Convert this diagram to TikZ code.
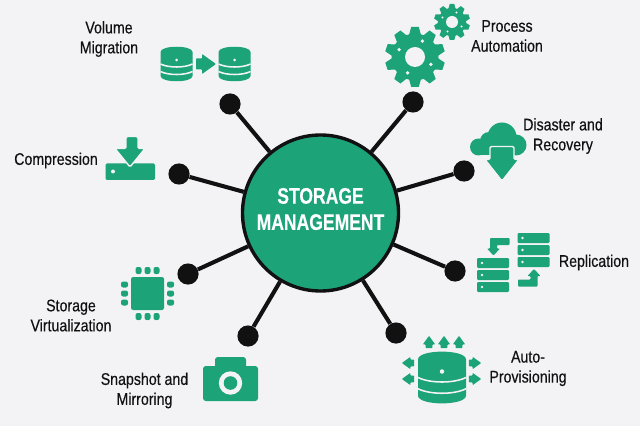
\documentclass[tikz,border=0pt]{standalone}
\usepackage{fontspec}
\usepackage{tikz}
\newfontfamily\labelfont[FakeStretch=0.84,FakeBold=0.35]{Liberation Sans}
\newfontfamily\hubfont[FakeStretch=0.78,FakeBold=0.3]{Liberation Sans}
\definecolor{iconGreen}{HTML}{1CA377}
\definecolor{paperGrey}{HTML}{F3F3F5}
\definecolor{inkBlack}{HTML}{111111}
\tikzstyle{blackdot}=[circle,draw=none,fill=inkBlack,
                      inner sep=0pt,minimum size=5.3mm]
\tikzstyle{hubdisc}=[circle,draw=inkBlack,fill=iconGreen,line width=2.4pt,
                     inner sep=0pt,minimum size=39mm]
\tikzstyle{hubtext}=[inner sep=0pt,align=center,text=white,
                     font=\hubfont\bfseries\fontsize{16}{18.6}\selectfont]
\tikzstyle{caption}=[inner sep=0pt,align=center,text=inkBlack,
                     font=\labelfont\fontsize{12}{14.2}\selectfont]
\tikzstyle{spoke}=[draw=inkBlack,line width=2.9pt]
\tikzstyle{iconfill}=[fill=iconGreen,draw=none]
\tikzstyle{paperfill}=[fill=paperGrey,draw=none]
\tikzset{
  dbicon/.pic={
    \fill[iconfill] (-16,-12) .. controls (-16,-19) and (16,-19) .. (16,-12)
      -- (16,12) .. controls (16,19) and (-16,19) .. (-16,12) -- cycle;
    \draw[paperGrey,line width=1.1pt] (-16,0) .. controls (-8,4) and (8,4) .. (16,0);
    \draw[paperGrey,line width=1.1pt] (-16,7.5) .. controls (-8,11.5) and (8,11.5) .. (16,7.5);
    \fill[paperfill] (0,-4) circle (1.5);
  },
  blockarrow/.pic={
    \fill[iconfill,rounded corners=.5] (-10,-5.5) -- (-4,-5.5) -- (-4,-10) -- (10,0)
      -- (-4,10) -- (-4,5.5) -- (-10,5.5) -- cycle;
  },
  gearicon/.pic={
    \fill[iconfill] (0,0) circle (23.5);
    \foreach \a in {0,36,...,324}
      \fill[iconfill,rotate=\a] (-6,-22) -- (-3.8,-30) -- (3.8,-30) -- (6,-22) -- cycle;
    \fill[paperfill] (0,0) circle (10);
    \foreach \a in {25,115,205,295}
      \fill[paperfill] (\a:17.5) circle (1.9);
  },
  rackicon/.pic={
    \foreach \r in {-12,0,12} {
      \fill[iconfill,rounded corners=.8] (-16,\r-5) rectangle (16,\r+5);
      \fill[paperfill] (-11,\r) circle (1.3);
    }
  },
  bendarrow/.pic={
    \fill[iconfill,rounded corners=.6] (16,-3.5) -- (-3.5,-3.5) -- (-3.5,7) -- (-6.5,7)
      -- (0,14) -- (6.5,7) -- (3.5,7) -- (3.5,3.5) -- (16,3.5) -- cycle;
  },
  chipicon/.pic={
    \fill[iconfill,rounded corners=1.5] (-16.5,-16.5) rectangle (16.5,16.5);
    \foreach \r in {0,90,180,270}
      \foreach \d in {-9,0,9}
        \fill[iconfill,rotate=\r,rounded corners=1.5] (\d-3,-19.5) rectangle (\d+3,-26.5);
  }
}
\begin{document}
\begin{tikzpicture}[x=0.25mm,y=-0.25mm]
    \fill[paperGrey] (0,0) rectangle (640,426);
    \useasboundingbox (0,0) rectangle (640,426);
    \node (hub) at (320.5,213) [hubdisc]{};
    \node (hubname) at (320.5,209) [hubtext]{STORAGE\\MANAGEMENT};
    \node (d1) at (230,104) [blackdot]{};
    \node (d2) at (179,174) [blackdot]{};
    \node (d3) at (413,102) [blackdot]{};
    \node (d4) at (464,171) [blackdot]{};
    \node (d5) at (188,274) [blackdot]{};
    \node (d6) at (248,336) [blackdot]{};
    \node (d7) at (455,271) [blackdot]{};
    \node (d8) at (396,333) [blackdot]{};
    \foreach \d in {d1,d2,d3,d4,d5,d6,d7,d8}
      \draw[spoke] (\d) -- (hub);

    \node (volume) at (109,39) [caption]{Volume\\Migration};
    \node (compress) at (56,160.5) [caption]{Compression};
    \node (process) at (507,36) [caption]{Process\\Automation};
    \node (disaster) at (563,136) [caption]{Disaster and\\Recovery};
    \node (replica) at (594,262.5) [caption]{Replication};
    \node (auto) at (528,368.5) [caption]{Auto-\\Provisioning};
    \node (snapshot) at (144.5,390.5) [caption]{Snapshot and\\Mirroring};
    \node (virtual) at (71,315.5) [caption]{Storage\\Virtualization};

    \pic at (176.5,64) {dbicon};
    \pic at (234.5,64) {dbicon};
    \pic at (206,64) {blockarrow};

    \fill[iconfill,rounded corners=1] (105.5,163.5) rectangle (155,180);
    \fill[paperfill] (113,171.5) circle (2);
    \filldraw[iconGreen,draw=paperGrey,line width=1pt,rounded corners=1]
      (126,136.5) -- (138,136.5) -- (138,148.5) -- (145,148.5) -- (130,167)
      -- (115,148.5) -- (126,148.5) -- cycle;

    \pic at (415,57) {gearicon};
    \pic[scale=0.6] at (452,22) {gearicon};

    \fill[iconfill] (502,137) circle (14.5);
    \fill[iconfill] (478.5,147) circle (8.5);
    \fill[iconfill] (516,145) circle (10.5);
    \fill[iconfill] (489,141) circle (9);
    \fill[iconfill] (478.5,145) rectangle (516,155.5);
    \filldraw[iconGreen,draw=paperGrey,line width=1pt,rounded corners=1]
      (490,146.5) -- (514,146.5) -- (514,159.5) -- (519,159.5) -- (502,181)
      -- (485,159.5) -- (490,159.5) -- cycle;

    \pic at (493,275) {rackicon};
    \pic at (533.5,250) {rackicon};
    \pic at (493.5,241.5) {bendarrow};
    \pic[rotate=180] at (534,283) {bendarrow};

    \pic[scale=1.5] at (442,377.5) {dbicon};
    \foreach \x in {429,444,459}
      \pic[scale=0.62,rotate=90] at (\x,342) {blockarrow};
    \foreach \y in {363,379} {
      \pic[scale=0.62,rotate=180] at (408,\y) {blockarrow};
      \pic[scale=0.62] at (475,\y) {blockarrow};
    }

    \pic at (147.5,293.5) {chipicon};

    \fill[iconfill,rounded corners=2] (203,366) rectangle (258,401);
    \fill[iconfill,rounded corners=2] (215,357) rectangle (246,372);
    \fill[paperfill] (230.5,383) circle (11.7);
    \fill[iconfill] (230.5,383) circle (6.8);
  \end{tikzpicture}
\end{document}
